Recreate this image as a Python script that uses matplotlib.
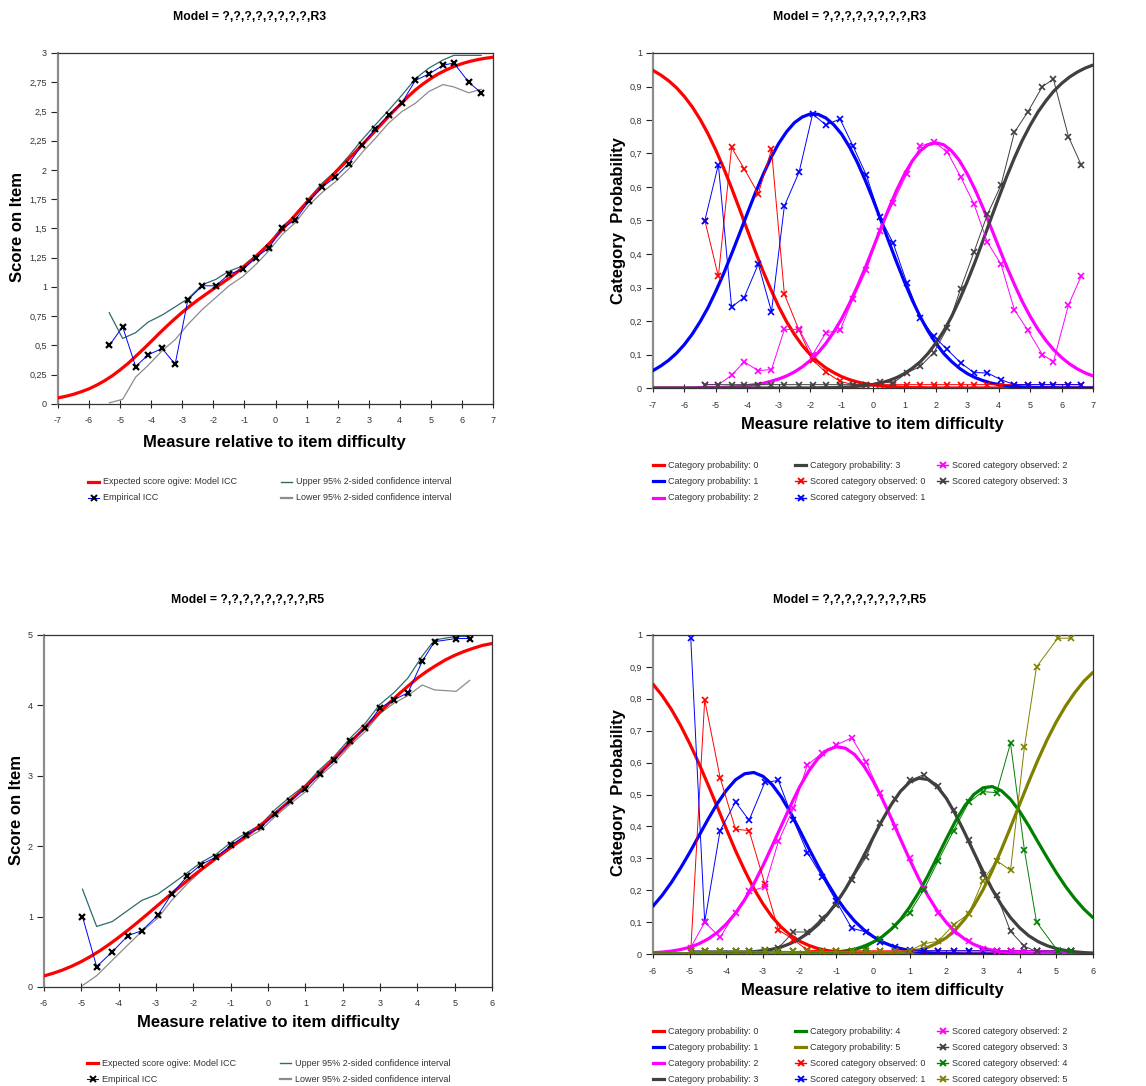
import numpy as np
import matplotlib
matplotlib.use('Agg')
import matplotlib.pyplot as plt
from matplotlib.lines import Line2D
from matplotlib.ticker import FuncFormatter, MultipleLocator

plt.rcParams['font.family'] = ['Liberation Sans', 'DejaVu Sans']
plt.rcParams['axes.unicode_minus'] = False

W, H = 1146, 1086

# ---------------- item R3 (categories 0-3), model curves every 0.25 logit ----------------
x_r3 = np.linspace(-7, 7, 57)
ogive_r3 = [.052, .066, .083, .105, .130, .162, .199, .242, .292, .346, .407, .470, .535, .601, .665,
            .726, .784, .838, .889, .936, .983, 1.028, 1.074, 1.124, 1.176, 1.233, 1.294, 1.358, 1.428,
            1.501, 1.573, 1.649, 1.722, 1.794, 1.864, 1.931, 2.000, 2.066, 2.134, 2.204, 2.275, 2.346,
            2.418, 2.489, 2.556, 2.623, 2.684, 2.736, 2.782, 2.823, 2.856, 2.885, 2.909, 2.928, 2.943,
            2.955, 2.964]
p0_r3 = [.948, .934, .917, .896, .870, .839, .802, .759, .710, .656, .597, .535, .472, .409, .349,
         .294, .243, .198, .160, .127, .100, .078, .060, .046, .034, .025, .018, .013, .009,
         .0065, .004, .003, .002, .001, .001, .0005, 0, 0, 0, 0, 0, 0,
         0, 0, 0, 0, 0, 0, 0, 0, 0, 0, 0, 0, 0, 0, 0]
p1_r3 = [.052, .066, .083, .104, .130, .161, .198, .240, .289, .342, .400, .460, .521, .581, .636,
         .687, .730, .765, .792, .809, .818, .817, .806, .786, .758, .720, .674, .621, .563,
         .501, .438, .376, .317, .262, .213, .170, .134, .103, .079, .059, .043, .031,
         .022, .015, .010, .007, .005, .003, .002, .001, .001, .0005, 0, 0, 0, 0, 0]
p2_r3 = [0, 0, 0, 0, 0, 0, .001, .001, .001, .002, .003, .005, .007, .010, .014,
         .020, .027, .036, .048, .063, .082, .105, .133, .167, .206, .252, .303, .358, .417,
         .477, .535, .590, .638, .678, .708, .726, .732, .726, .708, .679, .639, .592,
         .538, .480, .421, .363, .309, .258, .214, .175, .142, .114, .091, .072, .057, .045, .036]
p3_r3 = [0, 0, 0, 0, 0, 0, 0, 0, 0, 0, 0, 0, 0, 0, 0,
         0, 0, 0, 0, 0, 0, .0005, .001, .001, .002, .003, .005, .007, .010,
         .015, .022, .031, .043, .059, .078, .103, .134, .170, .213, .263, .318, .377,
         .440, .505, .568, .630, .687, .739, .784, .824, .857, .886, .909, .928, .943, .955, .964]

emp_x_r3 = [-5.35, -4.92, -4.50, -4.10, -3.65, -3.23, -2.82, -2.35, -1.92, -1.50, -1.05, -0.64, -0.21, 0.22,
            0.64, 1.08, 1.51, 1.93, 2.36, 2.79, 3.21, 3.64, 4.07, 4.50, 4.93, 5.39, 5.74, 6.22, 6.62]
icc_r3 = [0.50, 0.66, 0.32, 0.42, 0.475, 0.34, 0.89, 1.01, 1.01, 1.11, 1.15, 1.25, 1.335, 1.50,
          1.575, 1.735, 1.855, 1.94, 2.055, 2.215, 2.35, 2.47, 2.575, 2.765, 2.82, 2.895, 2.915, 2.75, 2.66]
upper_r3 = [0.78, 0.56, 0.61, 0.70, 0.76, 0.83, 0.90, 1.02, 1.065, 1.135, 1.18, 1.27, 1.37, 1.52,
            1.61, 1.76, 1.89, 1.99, 2.12, 2.26, 2.385, 2.51, 2.64, 2.78, 2.87, 2.94, 2.98, 2.98, 2.98]
lower_r3 = [0.01, 0.04, 0.23, 0.33, 0.455, 0.55, 0.68, 0.81, 0.91, 1.01, 1.09, 1.19, 1.31, 1.45,
            1.55, 1.70, 1.81, 1.90, 2.01, 2.15, 2.27, 2.40, 2.50, 2.57, 2.67, 2.73, 2.71, 2.66, 2.69]
obs0_r3 = [0.50, 0.333, 0.718, 0.655, 0.58, 0.712, 0.28, 0.172, 0.083, 0.047, 0.02, 0.01, 0.01, 0.01,
           0.01, 0.01, 0.01, 0.01, 0.01, 0.01, 0.01, 0.01, 0.01, 0.01, 0.01, 0.01, 0.01, 0.01, 0.01]
obs1_r3 = [0.50, 0.667, 0.242, 0.27, 0.37, 0.228, 0.543, 0.645, 0.818, 0.785, 0.803, 0.723, 0.635, 0.51,
           0.433, 0.313, 0.21, 0.155, 0.115, 0.075, 0.046, 0.045, 0.025, 0.01, 0.01, 0.01, 0.01, 0.01, 0.01]
obs2_r3 = [0.01, 0.01, 0.038, 0.078, 0.052, 0.055, 0.175, 0.175, 0.10, 0.165, 0.172, 0.265, 0.352, 0.47,
           0.553, 0.64, 0.722, 0.735, 0.705, 0.63, 0.55, 0.435, 0.37, 0.233, 0.172, 0.10, 0.078, 0.248, 0.333]
obs3_r3 = [0.01, 0.01, 0.01, 0.01, 0.01, 0.01, 0.01, 0.01, 0.01, 0.01, 0.01, 0.01, 0.01, 0.018,
           0.015, 0.045, 0.065, 0.105, 0.178, 0.297, 0.405, 0.518, 0.605, 0.763, 0.825, 0.90, 0.922, 0.75, 0.667]

# ---------------- item R5 (categories 0-5), model curves every 0.25 logit ----------------
x_r5 = np.linspace(-6, 6, 49)
ogive_r5 = [.157, .196, .242, .297, .361, .435, .516, .607, .705, .808, .915, 1.026, 1.139, 1.252, 1.363,
            1.474, 1.581, 1.685, 1.785, 1.884, 1.981, 2.079, 2.178, 2.278, 2.382, 2.492, 2.605, 2.723,
            2.846, 2.970, 3.099, 3.229, 3.363, 3.500, 3.634, 3.771, 3.904, 4.035, 4.159, 4.274, 4.387,
            4.482, 4.567, 4.646, 4.711, 4.766, 4.812, 4.853, 4.879]
p0_r5 = [.846, .810, .767, .717, .660, .598, .531, .462, .392, .324, .262, .205, .157, .116, .084,
         .059, .040, .027, .017, .011, .007, .004, .002, .001, .001, 0, 0, 0,
         0, 0, 0, 0, 0, 0, 0, 0, 0, 0, 0, 0, 0, 0, 0, 0, 0, 0, 0, 0, 0]
p1_r5 = [.150, .184, .224, .269, .318, .370, .422, .471, .513, .546, .565, .569, .557, .531, .492,
         .443, .388, .331, .276, .224, .177, .137, .103, .076, .055, .038, .026, .017,
         .011, .007, .004, .002, .001, .001, 0, 0, 0, 0, 0, 0, 0, 0, 0, 0, 0, 0, 0, 0, 0]
p2_r5 = [.004, .006, .009, .014, .021, .032, .047, .067, .094, .128, .170, .220, .277, .339, .402,
         .465, .524, .574, .613, .639, .650, .645, .625, .590, .543, .487, .425, .360,
         .296, .236, .182, .136, .099, .069, .047, .030, .019, .012, .007, .004, .002,
         .001, .001, 0, 0, 0, 0, 0, 0]
p3_r5 = [0, 0, 0, 0, 0, 0, 0, .001, .001, .002, .003, .006, .009, .015, .022,
         .033, .048, .067, .092, .123, .160, .204, .254, .308, .364, .419, .469, .510,
         .539, .551, .547, .525, .488, .438, .380, .319, .259, .203, .154, .114, .082,
         .057, .039, .026, .017, .011, .007, .0045, .003]
p4_r5 = [0, 0, 0, 0, 0, 0, 0, 0, 0, 0, 0, 0, 0, 0, 0,
         0, .001, .001, .002, .0035, .006, .010, .015, .024, .037, .054, .078, .108,
         .147, .193, .246, .303, .361, .4165, .464, .500, .521, .525, .512, .485, .447,
         .401, .351, .302, .255, .212, .174, .141, .114]
p5_r5 = [0, 0, 0, 0, 0, 0, 0, 0, 0, 0, 0, 0, 0, 0, 0,
         0, 0, 0, 0, 0, 0, 0, 0, 0, .001, .001, .003, .004,
         .008, .013, .021, .034, .051, .076, .109, .151, .201, .261, .327, .397, .470,
         .541, .609, .672, .728, .777, .819, .855, .883]

emp_x_r5 = [-4.97, -4.59, -4.17, -3.75, -3.38, -2.95, -2.58, -2.17, -1.79, -1.38, -1.00, -0.58, -0.19,
            0.19, 0.59, 1.00, 1.38, 1.78, 2.20, 2.61, 2.99, 3.37, 3.75, 4.13, 4.46, 5.04, 5.40]
icc_r5 = [1.00, 0.29, 0.50, 0.73, 0.80, 1.02, 1.32, 1.57, 1.74, 1.85, 2.01, 2.16, 2.27,
          2.46, 2.64, 2.815, 3.03, 3.22, 3.49, 3.68, 3.96, 4.08, 4.18, 4.625, 4.905, 4.95, 4.95]
upper_r5 = [1.39, 0.86, 0.93, 1.09, 1.23, 1.32, 1.46, 1.62, 1.77, 1.89, 2.05, 2.19, 2.31,
            2.52, 2.70, 2.87, 3.085, 3.28, 3.535, 3.75, 4.01, 4.18, 4.39, 4.70, 4.93, 4.98, 4.98]
lower_r5 = [0.02, 0.16, 0.38, 0.60, 0.79, 0.98, 1.23, 1.46, 1.65, 1.82, 1.97, 2.11, 2.23,
            2.42, 2.60, 2.77, 2.99, 3.18, 3.43, 3.63, 3.88, 4.03, 4.14, 4.29, 4.22, 4.20, 4.355]
obs0_r5 = [0.01, 0.797, 0.553, 0.391, 0.387, 0.22, 0.076, 0.045, 0.012, 0.01, 0.01, 0.01, 0.01,
           0.01, 0.01, 0.01, 0.01, 0.01, 0.01, 0.01, 0.01, 0.01, 0.01, 0.01, 0.01, 0.01, 0.01]
obs1_r5 = [0.99, 0.10, 0.387, 0.477, 0.419, 0.538, 0.544, 0.42, 0.318, 0.241, 0.165, 0.081, 0.069,
           0.037, 0.022, 0.014, 0.01, 0.01, 0.01, 0.01, 0.01, 0.01, 0.01, 0.01, 0.01, 0.01, 0.01]
obs2_r5 = [0.02, 0.10, 0.052, 0.13, 0.196, 0.21, 0.353, 0.457, 0.593, 0.63, 0.655, 0.678, 0.603,
           0.504, 0.398, 0.30, 0.204, 0.13, 0.069, 0.04, 0.016, 0.01, 0.01, 0.01, 0.01, 0.01, 0.01]
obs3_r5 = [0.01, 0.01, 0.01, 0.01, 0.01, 0.014, 0.019, 0.069, 0.069, 0.113, 0.155, 0.233, 0.303,
           0.41, 0.485, 0.544, 0.562, 0.528, 0.452, 0.358, 0.248, 0.186, 0.071, 0.024, 0.008, 0.01, 0.01]
obs4_r5 = [0.008, 0.008, 0.008, 0.008, 0.008, 0.008, 0.008, 0.008, 0.008, 0.008, 0.008, 0.01, 0.02,
           0.048, 0.087, 0.13, 0.20, 0.293, 0.387, 0.475, 0.509, 0.506, 0.661, 0.325, 0.10, 0.01, 0.01]
obs5_r5 = [0.008, 0.008, 0.008, 0.008, 0.008, 0.008, 0.008, 0.008, 0.008, 0.008, 0.008, 0.008, 0.008,
           0.008, 0.008, 0.01, 0.032, 0.04, 0.092, 0.126, 0.228, 0.293, 0.262, 0.65, 0.90, 0.99, 0.99]

cat_colors = ['#ff0000', '#0000ff', '#ff00ff', '#404040', '#008000', '#808000']
upper_color = '#2f6b6b'
lower_color = '#8c8c8c'
text_color = '#333333'


def px(x, y):
    return x / W, 1 - y / H


def rect(l, t, r, b):
    return [l / W, 1 - b / H, (r - l) / W, (b - t) / H]


def comma_fmt(v, pos):
    return ('%g' % round(v, 3)).replace('.', ',')


def style_axes(ax, xlim, ylim, ystep):
    ax.set_xlim(*xlim)
    ax.set_ylim(*ylim)
    ax.xaxis.set_major_locator(MultipleLocator(1))
    ax.yaxis.set_major_locator(MultipleLocator(ystep))
    ax.xaxis.set_major_formatter(FuncFormatter(comma_fmt))
    ax.yaxis.set_major_formatter(FuncFormatter(comma_fmt))
    ax.tick_params(axis='x', direction='inout', length=6, width=0.8, labelsize=6.5,
                   colors='#222222', labelcolor=text_color, pad=6)
    ax.tick_params(axis='y', direction='out', length=5, width=0.8, labelsize=6.5,
                   colors='#222222', labelcolor=text_color, pad=3)
    for s in ['top', 'right', 'bottom']:
        ax.spines[s].set_color('#333333')
        ax.spines[s].set_linewidth(0.9)
    ax.spines['left'].set_color('#8c8c8c')
    ax.spines['left'].set_linewidth(1.6)


def legend_entry(x, y, label, color, lw=1.0, marker=None, mcolor=None):
    x0, yy = px(x, y)
    x1, _ = px(x + 11, y)
    xm, _ = px(x + 5.5, y)
    fig.add_artist(Line2D([x0, x1], [yy, yy], color=color, lw=lw, transform=fig.transFigure))
    if marker:
        fig.add_artist(Line2D([xm], [yy], color=mcolor, marker=marker, ms=4.5, mew=1.4,
                              linestyle='none', transform=fig.transFigure))
    tx, ty = px(x + 15, y)
    fig.text(tx, ty, label, fontsize=6.5, color=text_color, va='center', ha='left')


fig = plt.figure(figsize=(W / 100, H / 100), dpi=100, facecolor='white')


def icc_panel(r, title, title_xy, ylab_xy, xlab_xy, xm, ogive, ex, icc, up, lo, xlim, ylim, ystep):
    ax = fig.add_axes(rect(*r))
    ax.plot(ex, up, color=upper_color, lw=0.9, zorder=2)
    ax.plot(ex, lo, color=lower_color, lw=0.9, zorder=2)
    ax.plot(xm, ogive, color='#ff0000', lw=2.3, zorder=3, solid_capstyle='round')
    ax.plot(ex, icc, color='#0000ff', lw=0.7, marker='x', ms=5, mew=1.6, mec='black', zorder=4)
    style_axes(ax, xlim, ylim, ystep)
    fig.text(*px(*title_xy), title, fontsize=8.8, fontweight='bold', ha='center', va='center')
    fig.text(*px(*ylab_xy), 'Score on Item', fontsize=12, fontweight='bold', ha='center', va='center',
             rotation=90)
    fig.text(*px(*xlab_xy), 'Measure relative to item difficulty', fontsize=12, fontweight='bold',
             ha='center', va='center')
    return ax


def cat_panel(r, title, title_xy, ylab_xy, xlab_xy, xm, probs, ex, obs, xlim):
    ax = fig.add_axes(rect(*r))
    for k, p in enumerate(probs):
        ax.plot(xm, p, color=cat_colors[k], lw=2.3, zorder=3, solid_capstyle='round')
    for k, o in enumerate(obs):
        ax.plot(ex, o, color=cat_colors[k], lw=0.7, marker='x', ms=5, mew=1.2, zorder=4)
    style_axes(ax, xlim, (0, 1), 0.1)
    fig.text(*px(*title_xy), title, fontsize=8.8, fontweight='bold', ha='center', va='center')
    fig.text(*px(*ylab_xy), 'Category  Probability', fontsize=12, fontweight='bold', ha='center',
             va='center', rotation=90)
    fig.text(*px(*xlab_xy), 'Measure relative to item difficulty', fontsize=12, fontweight='bold',
             ha='center', va='center')
    return ax


# top row: R3
icc_panel((58, 53, 493, 404), 'Model = ?,?,?,?,?,?,?,?,R3', (250, 17), (18, 227), (274, 442),
          x_r3, ogive_r3, emp_x_r3, icc_r3, upper_r3, lower_r3, (-7, 7), (0, 3), 0.25)
cat_panel((653, 53, 1093, 388), 'Model = ?,?,?,?,?,?,?,?,R3', (850, 17), (618, 221), (872, 425),
          x_r3, [p0_r3, p1_r3, p2_r3, p3_r3], emp_x_r3, [obs0_r3, obs1_r3, obs2_r3, obs3_r3], (-7, 7))

# bottom row: R5
icc_panel((44, 635, 492, 987), 'Model = ?,?,?,?,?,?,?,?,R5', (248, 600), (17, 810), (268, 1023),
          x_r5, ogive_r5, emp_x_r5, icc_r5, upper_r5, lower_r5, (-6, 6), (0, 5), 1)
cat_panel((653, 635, 1093, 954), 'Model = ?,?,?,?,?,?,?,?,R5', (850, 600), (618, 793), (872, 991),
          x_r5, [p0_r5, p1_r5, p2_r5, p3_r5, p4_r5, p5_r5], emp_x_r5,
          [obs0_r5, obs1_r5, obs2_r5, obs3_r5, obs4_r5, obs5_r5], (-6, 6))

# legends
for (cx1, cx2, r1, r2) in [(88, 281, 482, 498), (87, 280, 1063, 1079)]:
    legend_entry(cx1, r1, 'Expected score ogive: Model ICC', '#ff0000', lw=2.3)
    legend_entry(cx1, r2, 'Empirical ICC', '#0000ff', lw=0.8, marker='x', mcolor='black')
    legend_entry(cx2, r1, 'Upper 95% 2-sided confidence interval', upper_color, lw=1.0)
    legend_entry(cx2, r2, 'Lower 95% 2-sided confidence interval', lower_color, lw=1.6)


def cat_legend(ncat, rows_y):
    entries = [('Category probability: %d' % k, cat_colors[k], False) for k in range(ncat)]
    entries += [('Scored category observed: %d' % k, cat_colors[k], True) for k in range(ncat)]
    nrows = len(rows_y)
    cols_x = [653, 795, 937]
    for i, (lab, c, obs) in enumerate(entries):
        col, row = divmod(i, nrows)
        if obs:
            legend_entry(cols_x[col], rows_y[row], lab, c, lw=1.0, marker='x', mcolor=c)
        else:
            legend_entry(cols_x[col], rows_y[row], lab, c, lw=2.3)


cat_legend(4, [465, 481, 498])
cat_legend(6, [1031, 1047, 1063, 1079])

fig.savefig('out.png', dpi=100, facecolor='white')
